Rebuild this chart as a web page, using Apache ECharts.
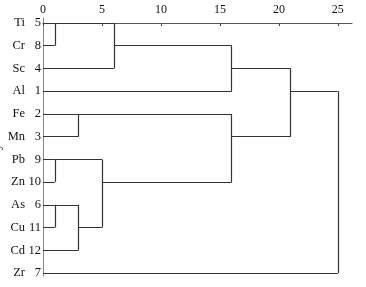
<!DOCTYPE html>
<html>
<head>
<meta charset="utf-8">
<script src="https://cdn.jsdelivr.net/npm/echarts@6/dist/echarts.min.js"></script>
<style>
  html, body { margin: 0; padding: 0; background: #fff; }
  #main { width: 366px; height: 287px; }
</style>
</head>
<body>
<div id="main"></div>
<script>
// leaves, top to bottom
var leafNames = ['Ti', 'Cr', 'Sc', 'Al', 'Fe', 'Mn', 'Pb', 'Zn', 'As', 'Cu', 'Cd', 'Zr'];
var leafIds = [5, 8, 4, 1, 2, 3, 9, 10, 6, 11, 12, 7];
// merges: node index 12 + k ; children a/b, distance, row the stem leaves from
var mergeA = [0, 12, 13, 4, 6, 8, 17, 16, 15, 14, 21];
var mergeB = [1, 2, 3, 5, 7, 9, 10, 18, 19, 20, 11];
var mergeDist = [1, 6, 16, 3, 1, 1, 3, 5, 16, 21, 25];
var mergeRow = [0, 1, 2, 4, 6, 8, 9, 7, 5, 3, 3];
var xTicks = [0, 5, 10, 15, 20, 25];

var n = leafNames.length;
var nodeX = [], nodeRow = [];
for (var i = 0; i < n; i++) { nodeX.push(0); nodeRow.push(i); }
for (var k = 0; k < mergeA.length; k++) { nodeX.push(mergeDist[k]); nodeRow.push(mergeRow[k]); }

// build segments
var segs = [];
for (var k = 0; k < mergeA.length; k++) {
    var d = mergeDist[k];
    [mergeA[k], mergeB[k]].forEach(function (c) {
        segs.push({ coords: [[nodeX[c], nodeRow[c]], [d, nodeRow[c]]] });
    });
    segs.push({ coords: [[d, nodeRow[mergeA[k]]], [d, nodeRow[mergeB[k]]]] });
}

var myChart = echarts.init(document.getElementById('main'));
var font = 'Liberation Serif';
var option = {
    animation: false,
    backgroundColor: '#fff',
    grid: { left: 43, right: 14, top: 18, bottom: 11, outerBoundsMode: 'none', containLabel: false },
    xAxis: {
        type: 'value',
        position: 'top',
        min: 0,
        max: 26.2,
        splitLine: { show: false },
        axisLine: { lineStyle: { color: '#555', width: 1 } },
        axisTick: { inside: true, length: 3, customValues: xTicks, lineStyle: { color: '#444' } },
        axisLabel: { customValues: xTicks, color: '#111', fontFamily: font, fontSize: 12, margin: 2 }
    },
    yAxis: {
        type: 'value',
        inverse: true,
        min: -0.22,
        max: 11.13,
        name: 'y',
        nameLocation: 'middle',
        nameRotate: 90,
        nameGap: 40,
        nameMoveOverlap: false,
        nameTextStyle: { color: '#111', fontFamily: font, fontSize: 12 },
        splitLine: { show: false },
        axisLine: { show: true, lineStyle: { color: '#888', width: 1 } },
        axisTick: { show: false },
        axisLabel: {
            customValues: leafNames.map(function (v, i) { return i; }),
            margin: 2,
            formatter: function (v) {
                var i = Math.round(v);
                return '{n|' + leafNames[i] + '}{d|' + leafIds[i] + '}';
            },
            rich: {
                n: { width: 16, align: 'right', color: '#111', fontFamily: font, fontSize: 12.5 },
                d: { width: 16, align: 'right', color: '#111', fontFamily: font, fontSize: 12.5 }
            }
        }
    },
    series: [{
        type: 'lines',
        coordinateSystem: 'cartesian2d',
        polyline: false,
        silent: true,
        lineStyle: { color: '#333', width: 1.2, opacity: 1 },
        data: segs
    }]
};
myChart.setOption(option);
</script>
</body>
</html>
